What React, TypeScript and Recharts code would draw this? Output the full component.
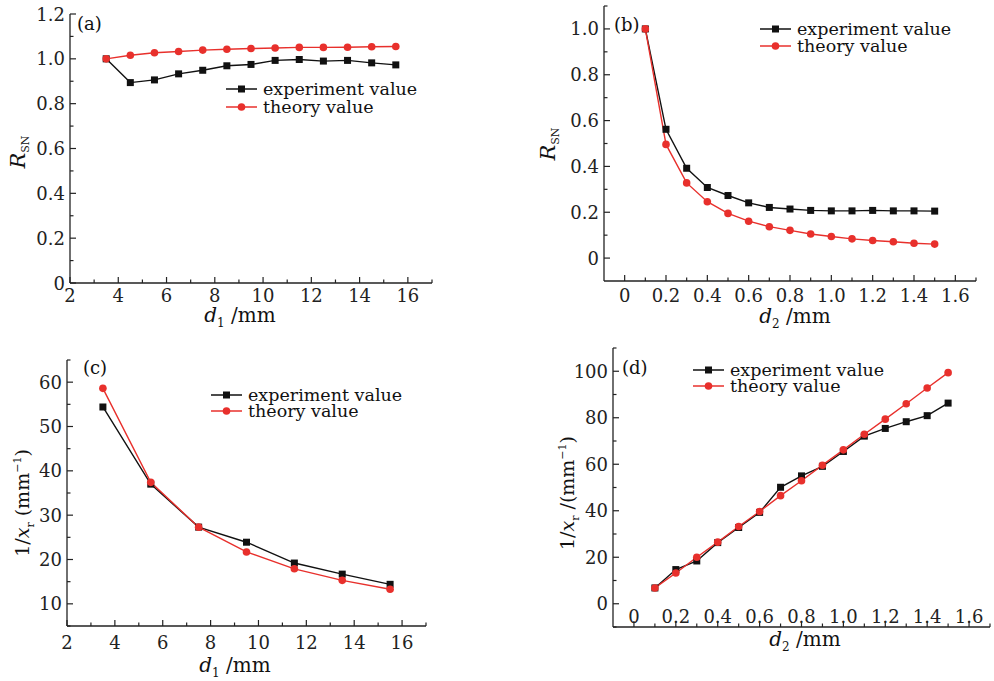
import React from 'react';
import { Label, Legend, Line, LineChart, XAxis, YAxis } from 'recharts';

const RED = '#e8302c';
const BLACK = '#111111';
const AXIS = '#222222';
const FONT = '"DejaVu Serif", serif';

// (a) R_SN against d1
const D1_A = [3.5, 4.5, 5.5, 6.5, 7.5, 8.5, 9.5, 10.5, 11.5, 12.5, 13.5, 14.5, 15.5];
const EXP_A = [1.0, 0.894, 0.906, 0.933, 0.949, 0.969, 0.975, 0.993, 0.997, 0.99, 0.993, 0.982, 0.973];
const THEORY_A = [1.0, 1.016, 1.027, 1.033, 1.039, 1.043, 1.046, 1.048, 1.051, 1.051, 1.052, 1.054, 1.055];

// (b) R_SN against d2
const D2_B = [0.1, 0.2, 0.3, 0.4, 0.5, 0.6, 0.7, 0.8, 0.9, 1.0, 1.1, 1.2, 1.3, 1.4, 1.5];
const EXP_B = [1.0, 0.562, 0.392, 0.308, 0.273, 0.241, 0.221, 0.214, 0.208, 0.206, 0.206, 0.208, 0.206, 0.206, 0.205];
const THEORY_B = [1.0, 0.496, 0.328, 0.246, 0.195, 0.161, 0.137, 0.121, 0.105, 0.094, 0.084, 0.077, 0.071, 0.065, 0.061];

// (c) 1/x_r against d1
const D1_C = [3.5, 5.5, 7.5, 9.5, 11.5, 13.5, 15.5];
const EXP_C = [54.4, 37.0, 27.3, 23.9, 19.2, 16.7, 14.4];
const THEORY_C = [58.6, 37.4, 27.3, 21.7, 17.9, 15.3, 13.3];

// (d) 1/x_r against d2
const D2_D = [0.1, 0.2, 0.3, 0.4, 0.5, 0.6, 0.7, 0.8, 0.9, 1.0, 1.1, 1.2, 1.3, 1.4, 1.5];
const EXP_D = [6.8, 14.7, 18.4, 26.3, 32.8, 39.3, 50.1, 55.0, 59.1, 65.5, 72.1, 75.4, 78.3, 80.9, 86.3];
const THEORY_D = [6.8, 13.2, 20.0, 26.5, 33.2, 39.7, 46.5, 52.9, 59.6, 66.2, 72.9, 79.4, 86.0, 92.8, 99.4];

// ticks (major + minor)
const X_TICKS_D1 = [2, 3, 4, 5, 6, 7, 8, 9, 10, 11, 12, 13, 14, 15, 16, 17];
const X_TICKS_D2 = [0, 0.1, 0.2, 0.3, 0.4, 0.5, 0.6, 0.7, 0.8, 0.9, 1.0, 1.1, 1.2, 1.3, 1.4, 1.5, 1.6, 1.7];
const Y_TICKS_A = [0, 0.1, 0.2, 0.3, 0.4, 0.5, 0.6, 0.7, 0.8, 0.9, 1.0, 1.1, 1.2];
const Y_TICKS_B = [0, 0.1, 0.2, 0.3, 0.4, 0.5, 0.6, 0.7, 0.8, 0.9, 1.0, 1.1];
const Y_TICKS_C = [5, 10, 15, 20, 25, 30, 35, 40, 45, 50, 55, 60, 65];
const Y_TICKS_D = [-10, 0, 10, 20, 30, 40, 50, 60, 70, 80, 90, 100, 110];

const rows = (xs: number[], exp: number[], theory: number[]) =>
  xs.map((x, i) => ({ x, exp: exp[i], theory: theory[i] }));

const evenInt = (v: number) => Math.round(v) % 2 === 0 && v <= 16;
const evenTenth = (v: number) => Math.round(v * 10) % 2 === 0 && v <= 1.6001;
const fmtTenth = (v: number) => (v === 0 ? '0' : v.toFixed(1));

function makeXTick(isMajor: (v: number) => boolean, fmt: (v: number) => string, dy: number) {
  return (props: any) => {
    const { x, y, payload } = props;
    const v = payload.value as number;
    const major = isMajor(v);
    return (
      <g>
        <line x1={x} x2={x} y1={y} y2={y - (major ? 6 : 3.5)} stroke={AXIS} strokeWidth={1.2} />
        {major && (
          <text x={x} y={y + dy} textAnchor="middle" fontSize={18} fontFamily={FONT} fill={AXIS}>
            {fmt(v)}
          </text>
        )}
      </g>
    );
  };
}

function makeYTick(isMajor: (v: number) => boolean, fmt: (v: number) => string) {
  return (props: any) => {
    const { x, y, payload } = props;
    const v = payload.value as number;
    const major = isMajor(v);
    return (
      <g>
        <line x1={x} x2={x + (major ? 6 : 3.5)} y1={y} y2={y} stroke={AXIS} strokeWidth={1.2} />
        {major && (
          <text x={x - 5} y={y + 6.5} textAnchor="end" fontSize={18} fontFamily={FONT} fill={AXIS}>
            {fmt(v)}
          </text>
        )}
      </g>
    );
  };
}

const SquareDot = (props: any) => {
  const { cx, cy } = props;
  if (cx == null || cy == null) return null;
  return <rect x={cx - 3.5} y={cy - 3.5} width={7} height={7} fill={BLACK} />;
};

const RoundDot = (props: any) => {
  const { cx, cy } = props;
  if (cx == null || cy == null) return null;
  return <circle cx={cx} cy={cy} r={3.8} fill={RED} />;
};

function LegendBox({ gap }: { gap: number }) {
  return (
    <svg width={230} height={gap + 24} style={{ overflow: 'visible', display: 'block' }}>
      <line x1={0} x2={31} y1={9} y2={9} stroke={BLACK} strokeWidth={1.5} />
      <rect x={12} y={5.5} width={7} height={7} fill={BLACK} />
      <text x={37} y={15} fontSize={17.5} fontFamily={FONT} fill={BLACK}>
        experiment value
      </text>
      <line x1={0} x2={31} y1={9 + gap} y2={9 + gap} stroke={RED} strokeWidth={1.5} />
      <circle cx={15.5} cy={9 + gap} r={3.8} fill={RED} />
      <text x={37} y={15 + gap} fontSize={17.5} fontFamily={FONT} fill={BLACK}>
        theory value
      </text>
    </svg>
  );
}

const textLabel = (node: React.ReactNode) => () => node;

type PanelProps = {
  left: number;
  top: number;
  width: number;
  height: number;
  margin: { top: number; right: number; bottom: number; left: number };
  yWidth: number;
  xHeight: number;
  data: { x: number; exp: number; theory: number }[];
  xDomain: [number, number];
  yDomain: [number, number];
  xTicks: number[];
  yTicks: number[];
  xTick: any;
  yTick: any;
  legendPos: { left: number; top: number; gap: number };
  tag: { x: number; y: number; text: string };
  xTitle: React.ReactNode;
  yTitle: React.ReactNode;
};

function Panel(p: PanelProps) {
  return (
    <div style={{ position: 'absolute', left: p.left, top: p.top }}>
      <LineChart width={p.width} height={p.height} data={p.data} margin={p.margin}>
        <XAxis
          type="number"
          dataKey="x"
          domain={p.xDomain}
          ticks={p.xTicks}
          interval={0}
          tickSize={0}
          tickMargin={0}
          tickLine={false}
          tick={p.xTick}
          height={p.xHeight}
          axisLine={{ stroke: AXIS, strokeWidth: 1.3 }}
        >
          <Label content={textLabel(p.xTitle)} />
        </XAxis>
        <YAxis
          type="number"
          domain={p.yDomain}
          ticks={p.yTicks}
          interval={0}
          width={p.yWidth}
          tickSize={0}
          tickMargin={0}
          tickLine={false}
          tick={p.yTick}
          axisLine={{ stroke: AXIS, strokeWidth: 1.3 }}
        >
          <Label content={textLabel(p.yTitle)} />
          <Label
            content={textLabel(
              <text x={p.tag.x} y={p.tag.y} fontSize={18} fontFamily={FONT} fill={BLACK}>
                {p.tag.text}
              </text>
            )}
          />
        </YAxis>
        <Legend
          layout="horizontal"
          verticalAlign="middle"
          align="center"
          wrapperStyle={{ left: p.legendPos.left, top: p.legendPos.top, width: 230, height: p.legendPos.gap + 24 }}
          content={() => <LegendBox gap={p.legendPos.gap} />}
        />
        <Line
          type="linear"
          dataKey="exp"
          name="experiment value"
          stroke={BLACK}
          strokeWidth={1.4}
          dot={<SquareDot />}
          activeDot={false}
          isAnimationActive={false}
        />
        <Line
          type="linear"
          dataKey="theory"
          name="theory value"
          stroke={RED}
          strokeWidth={1.4}
          dot={<RoundDot />}
          activeDot={false}
          isAnimationActive={false}
        />
      </LineChart>
    </div>
  );
}

const txt = { fontFamily: FONT, fill: BLACK } as const;

function XTitle({ x, y, sub }: { x: number; y: number; sub: string }) {
  return (
    <text x={x} y={y} textAnchor="middle" fontSize={20} {...txt}>
      <tspan fontStyle="italic">d</tspan>
      <tspan fontSize={12} dy={5}>{sub}</tspan>
      <tspan dy={-5}> /mm</tspan>
    </text>
  );
}

function RTitle({ x, y }: { x: number; y: number }) {
  return (
    <text x={x} y={y} textAnchor="middle" fontSize={21} transform={`rotate(-90 ${x} ${y})`} {...txt}>
      <tspan fontStyle="italic">R</tspan>
      <tspan fontSize={11} dy={4}>SN</tspan>
    </text>
  );
}

function XrTitle({ x, y, slash }: { x: number; y: number; slash: boolean }) {
  return (
    <text x={x} y={y} textAnchor="middle" fontSize={19} transform={`rotate(-90 ${x} ${y})`} {...txt}>
      <tspan>1/</tspan>
      <tspan fontStyle="italic">x</tspan>
      <tspan fontSize={11} dy={5}>r</tspan>
      <tspan dy={-5}>{slash ? ' /(mm' : ' (mm'}</tspan>
      <tspan fontSize={11} dy={-8}>−1</tspan>
      <tspan dy={8}>)</tspan>
    </text>
  );
}

export default function App() {
  const W = 497;
  return (
    <div style={{ position: 'absolute', left: 0, top: 0, width: 994, height: 681, background: '#fff', overflow: 'hidden' }}>
      <Panel
        left={0}
        top={0}
        width={W}
        height={340}
        margin={{ top: 14, right: 65, bottom: 0, left: 0 }}
        yWidth={70}
        xHeight={57}
        data={rows(D1_A, EXP_A, THEORY_A)}
        xDomain={[2, 17]}
        yDomain={[0, 1.2]}
        xTicks={X_TICKS_D1}
        yTicks={Y_TICKS_A}
        xTick={makeXTick(evenInt, (v) => String(v), 19)}
        yTick={makeYTick((v) => Math.round(v * 10) % 2 === 0, (v) => (v === 0 ? '0' : v.toFixed(1)))}
        legendPos={{ left: 226, top: 80, gap: 18 }}
        tag={{ x: 77, y: 30, text: '(a)' }}
        xTitle={<XTitle x={240} y={322} sub="1" />}
        yTitle={<RTitle x={25} y={152} />}
      />
      <Panel
        left={W}
        top={0}
        width={W}
        height={340}
        margin={{ top: 6, right: 18, bottom: 0, left: 0 }}
        yWidth={107}
        xHeight={59}
        data={rows(D2_B, EXP_B, THEORY_B)}
        xDomain={[-0.1, 1.7]}
        yDomain={[-0.1, 1.1]}
        xTicks={X_TICKS_D2}
        yTicks={Y_TICKS_B}
        xTick={makeXTick(evenTenth, fmtTenth, 21)}
        yTick={makeYTick((v) => Math.round(v * 10) % 2 === 0 && v <= 1.0001, (v) => (v === 0 ? '0' : v.toFixed(1)))}
        legendPos={{ left: 263, top: 20, gap: 17 }}
        tag={{ x: 117, y: 31, text: '(b)' }}
        xTitle={<XTitle x={298} y={323} sub="2" />}
        yTitle={<RTitle x={58} y={144} />}
      />
      <Panel
        left={0}
        top={340}
        width={W}
        height={341}
        margin={{ top: 20, right: 71, bottom: 0, left: 0 }}
        yWidth={67}
        xHeight={55}
        data={rows(D1_C, EXP_C, THEORY_C)}
        xDomain={[2, 17]}
        yDomain={[5, 65]}
        xTicks={X_TICKS_D1}
        yTicks={Y_TICKS_C}
        xTick={makeXTick(evenInt, (v) => String(v), 23)}
        yTick={makeYTick((v) => v % 10 === 0, (v) => String(v))}
        legendPos={{ left: 211, top: 46, gap: 16 }}
        tag={{ x: 83, y: 34, text: '(c)' }}
        xTitle={<XTitle x={235} y={332} sub="1" />}
        yTitle={<XrTitle x={29} y={163} slash={false} />}
      />
      <Panel
        left={W}
        top={340}
        width={W}
        height={341}
        margin={{ top: 8, right: 4, bottom: 0, left: 0 }}
        yWidth={116}
        xHeight={54}
        data={rows(D2_D, EXP_D, THEORY_D)}
        xDomain={[-0.1, 1.7]}
        yDomain={[-10, 110]}
        xTicks={X_TICKS_D2}
        yTicks={Y_TICKS_D}
        xTick={makeXTick(evenTenth, fmtTenth, -4)}
        yTick={makeYTick((v) => v >= 0 && v <= 100 && v % 20 === 0, (v) => String(v))}
        legendPos={{ left: 196, top: 21, gap: 16 }}
        tag={{ x: 125, y: 34, text: '(d)' }}
        xTitle={<XTitle x={308} y={306} sub="2" />}
        yTitle={<XrTitle x={77} y={153} slash={true} />}
      />
    </div>
  );
}
